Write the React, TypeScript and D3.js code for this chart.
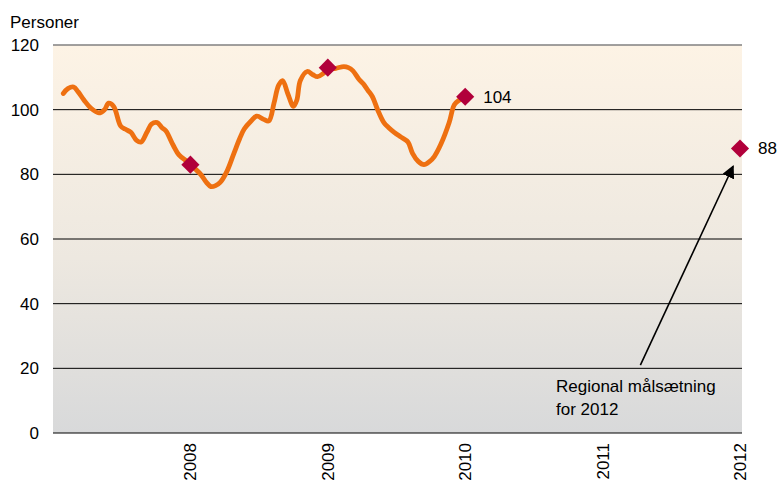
import React from 'react';
import * as d3 from 'd3';

// months after Jan 2007 and number of persons
const months = [0.9, 1.3, 1.8, 2.2, 2.7, 3.3, 4.0, 4.5, 4.85, 5.3, 5.9, 6.3, 6.8, 7.3, 7.7, 8.2, 8.6, 9.1, 9.5, 9.85, 10.5, 11.0, 11.7, 12.0, 12.9, 13.4, 13.8, 14.2, 14.6, 15.2, 15.8, 16.3, 16.7, 17.3, 17.8, 18.4, 18.85, 19.3, 19.7, 20.05, 20.5, 21.0, 21.3, 21.6, 22.2, 22.7, 23.1, 23.6, 24.05, 24.7, 25.4, 25.8, 26.2, 26.7, 27.1, 27.5, 27.9, 28.35, 28.9, 29.3, 29.8, 30.4, 31.0, 31.4, 31.9, 32.4, 32.9, 33.3, 33.9, 34.6, 35.05, 35.5, 36.0];
const persons = [105, 106.5, 107, 105.5, 103, 100.5, 99, 100, 102, 101, 95, 94, 93, 90.5, 90, 93, 95.5, 96, 94.5, 93.5, 89, 86, 84, 83, 80, 77.5, 76.2, 76.5, 77.5, 81, 86.5, 91, 94, 96.5, 98, 97, 96.5, 102, 107.5, 109, 105, 101, 103, 109, 111.8, 110.8, 110.2, 111.2, 112.5, 112.8, 113.3, 113, 112, 109.5, 108, 106, 104, 100, 96, 94.5, 93, 91.5, 90, 86.5, 84, 83, 84, 85.5, 89.5, 96, 101.5, 103, 104];

const markerMonths = [12, 24, 36, 60];
const markerValues = [83, 113, 104, 88];
const labelledMarkers = [2, 3];

const yTicks = [0, 20, 40, 60, 80, 100, 120];
const years = [2008, 2009, 2010, 2011, 2012];

const W = 778;
const H = 486;
const left = 53;
const right = 742;
const top = 45;
const bottom = 433;
const font = 'Arial, "Liberation Sans", sans-serif';

export default function App() {
  const x = d3.scaleLinear().domain([0, 60]).range([left, 740]);
  const y = d3.scaleLinear().domain([0, 120]).range([bottom, top]);

  const line = d3
    .line<number>()
    .x((_, i) => x(months[i]))
    .y((d) => y(d))
    .curve(d3.curveCatmullRom.alpha(0.5));

  const diamond = d3.symbol(d3.symbolSquare, 165)() as string;

  // arrow from the note up to the 2012 target
  const arrowFrom: [number, number] = [x(51.3), y(21)];
  const arrowTo: [number, number] = [x(59.4), y(82.5)];

  return (
    <svg width={W} height={H} style={{ position: 'absolute', left: 0, top: 0 }} fontFamily={font}>
      <defs>
        <linearGradient id="bg" x1="0" y1="0" x2="0" y2="1">
          <stop offset="0%" stopColor="#fdf3e5" />
          <stop offset="55%" stopColor="#ede8e0" />
          <stop offset="100%" stopColor="#d8d9da" />
        </linearGradient>
        <marker id="arrow" viewBox="0 0 10 10" refX="9" refY="5" markerWidth="8" markerHeight="8" orient="auto">
          <path d="M0,0 L10,5 L0,10 z" fill="#000" />
        </marker>
      </defs>
      <rect x={left} y={top} width={right - left} height={bottom - top} fill="url(#bg)" />

      {yTicks.map((t) => (
        <g key={t}>
          <line
            x1={left}
            x2={right}
            y1={y(t)}
            y2={y(t)}
            stroke={t === 120 ? '#808080' : '#000'}
            strokeWidth={t === 120 ? 1.6 : 1}
          />
          <text x={39} y={y(t)} dy="0.35em" textAnchor="end" fontSize={17} fill="#000">
            {t}
          </text>
        </g>
      ))}

      <text x={10} y={28} fontSize={17} fill="#000">
        Personer
      </text>

      {years.map((yr, i) => (
        <text
          key={yr}
          transform={`translate(${x((i + 1) * 12) + 6},443) rotate(-90)`}
          textAnchor="end"
          fontSize={17}
          fill="#000"
        >
          {yr}
        </text>
      ))}

      <path d={line(persons) as string} fill="none" stroke="#ee7011" strokeWidth={4.8} strokeLinejoin="round" strokeLinecap="round" />

      {markerMonths.map((m, i) => (
        <g key={m}>
          <path d={diamond} transform={`translate(${x(m)},${y(markerValues[i])}) rotate(45)`} fill="#b1003b" />
          {labelledMarkers.includes(i) && (
            <text x={x(m) + 18} y={y(markerValues[i])} dy="0.35em" fontSize={17} fill="#000">
              {markerValues[i]}
            </text>
          )}
        </g>
      ))}

      <line
        x1={arrowFrom[0]}
        y1={arrowFrom[1]}
        x2={arrowTo[0]}
        y2={arrowTo[1]}
        stroke="#000"
        strokeWidth={1.6}
        markerEnd="url(#arrow)"
      />
      <text x={556} y={392} fontSize={17} fill="#000">
        Regional målsætning
      </text>
      <text x={556} y={415} fontSize={17} fill="#000">
        for 2012
      </text>
    </svg>
  );
}
